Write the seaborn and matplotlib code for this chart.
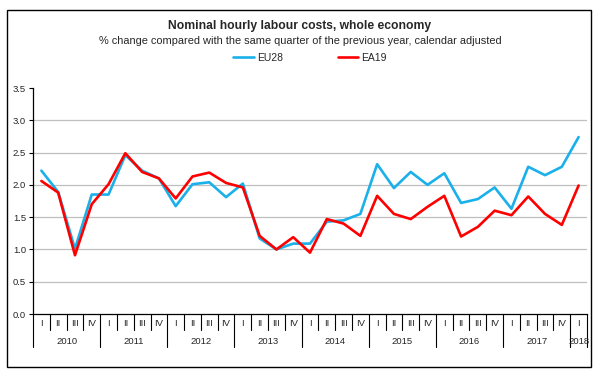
import numpy as np
import pandas as pd
import matplotlib
matplotlib.use("Agg")
import matplotlib.pyplot as plt
from matplotlib.patches import Rectangle
from matplotlib.lines import Line2D
import seaborn as sns

years = ["2010", "2011", "2012", "2013", "2014", "2015", "2016", "2017", "2018"]
quarter_names = ["I", "II", "III", "IV"]
n_quarters = 33  # 2010Q1 .. 2018Q1

eu28 = [2.22, 1.89, 1.01, 1.85, 1.85, 2.46, 2.22, 2.10, 1.67, 2.01, 2.04, 1.81,
        2.02, 1.17, 1.00, 1.09, 1.09, 1.43, 1.45, 1.55, 2.32, 1.95, 2.20, 2.00,
        2.18, 1.72, 1.78, 1.96, 1.63, 2.28, 2.15, 2.28, 2.74]
ea19 = [2.06, 1.88, 0.91, 1.70, 2.01, 2.49, 2.20, 2.10, 1.79, 2.13, 2.19, 2.03,
        1.96, 1.21, 1.00, 1.19, 0.95, 1.47, 1.40, 1.21, 1.83, 1.55, 1.47, 1.66,
        1.83, 1.20, 1.35, 1.60, 1.53, 1.82, 1.55, 1.38, 1.99]
series_names = ["EU28", "EA19"]
colors = {"EU28": "#1AB0EA", "EA19": "#FF0000"}
yticks = [0.0, 0.5, 1.0, 1.5, 2.0, 2.5, 3.0, 3.5]

idx = list(range(n_quarters))
df = pd.DataFrame({
    "idx": idx * 2,
    "value": eu28 + ea19,
    "series": ["EU28"] * n_quarters + ["EA19"] * n_quarters,
})

sns.set_theme(style="white")
plt.rcParams["font.family"] = ["Liberation Sans", "DejaVu Sans"]

W, H = 600, 375
fig = plt.figure(figsize=(6, 3.75), dpi=100)
ax_l, ax_r, ax_t, ax_b = 33, 587, 88, 314
ax = fig.add_axes([ax_l / W, (H - ax_b) / H, (ax_r - ax_l) / W, (ax_b - ax_t) / H])
ax_h = ax_b - ax_t

# outer frame
fig.patches.append(Rectangle((7 / W, (H - 367) / H), 584 / W, 357 / H,
                             transform=fig.transFigure, fill=False,
                             edgecolor="black", linewidth=1.0))

for v in yticks:
    if 0 < v < yticks[-1]:
        ax.axhline(v, color="#BFBFBF", linewidth=0.9, zorder=0)

sns.lineplot(data=df, x="idx", y="value", hue="series", hue_order=series_names,
             palette=colors, linewidth=1.9, ax=ax, legend=False)

ax.set_xlim(-0.5, n_quarters - 0.5)
ax.set_ylim(0, 3.5)
ax.set_yticks(yticks)
ax.set_yticklabels([f"{v:.1f}" for v in yticks], fontsize=6.8)
ax.set_xticks([])
ax.set_xlabel("")
ax.set_ylabel("")
ax.tick_params(axis="y", length=3, width=0.8, color="black", pad=2, left=True)
for s in ["top", "right"]:
    ax.spines[s].set_visible(False)
for s in ["left", "bottom"]:
    ax.spines[s].set_color("black")
    ax.spines[s].set_linewidth(0.9)

trans = ax.get_xaxis_transform()
q_len = 16 / ax_h
y_len = 33 / ax_h
# quarter labels & separators
for i in range(n_quarters):
    ax.text(i, -10 / ax_h, quarter_names[i % 4], transform=trans, ha="center",
            va="center", fontsize=6.8)
for i in range(n_quarters + 1):
    b = i - 0.5
    length = y_len if (i % 4 == 0 or i == n_quarters) else q_len
    ax.plot([b, b], [0, -length], transform=trans, color="black",
            linewidth=0.8, clip_on=False)
# year labels
for k, yr in enumerate(years):
    start = 4 * k
    end = min(4 * k + 3, n_quarters - 1)
    ax.text((start + end) / 2, -27 / ax_h, yr, transform=trans, ha="center",
            va="center", fontsize=6.8)

fig.text(0.5, 1 - 26.5 / H, "Nominal hourly labour costs, whole economy",
         ha="center", va="center", fontsize=8.7, fontweight="bold")
fig.text(0.5, 1 - 40.5 / H,
         "% change compared with the same quarter of the previous year, calendar adjusted",
         ha="center", va="center", fontsize=7.9)

handles = [Line2D([0], [0], color=colors[s], linewidth=1.9) for s in series_names]
fig.legend(handles, series_names, loc="center", bbox_to_anchor=(0.517, 1 - 58 / H),
           ncol=2, frameon=False, fontsize=7.5, handlelength=2.0,
           handletextpad=0.3, columnspacing=5.2)

fig.savefig("out.png", dpi=100)
